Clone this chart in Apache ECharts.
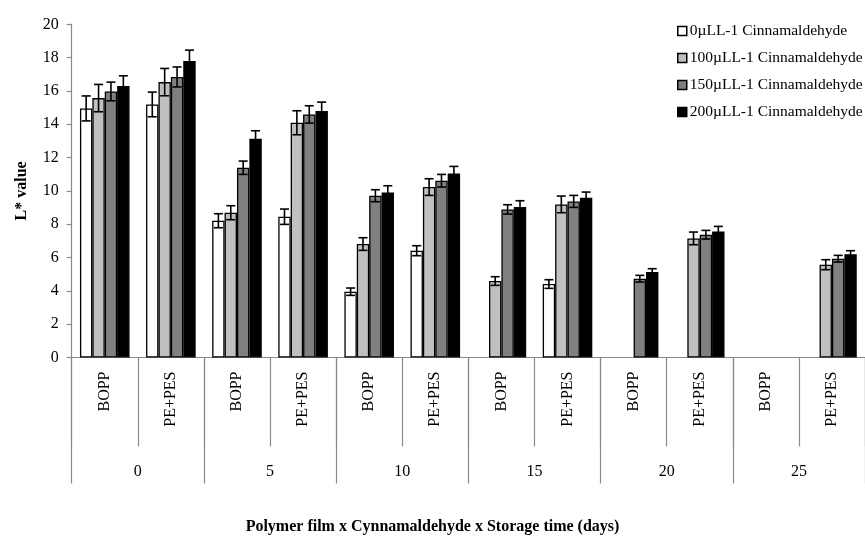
<!DOCTYPE html>
<html>
<head>
<meta charset="utf-8">
<script src="https://cdn.jsdelivr.net/npm/echarts@6/dist/echarts.min.js"></script>
<style>
  html, body { margin: 0; padding: 0; background: #ffffff; }
  #chart { width: 865px; height: 538px; }
</style>
</head>
<body>
<div id="chart"></div>
<script>
// Films within each storage day
const films = ['BOPP', 'PE+PES', 'BOPP', 'PE+PES', 'BOPP', 'PE+PES',
               'BOPP', 'PE+PES', 'BOPP', 'PE+PES', 'BOPP', 'PE+PES'];
// Storage time groups (days)
const days = ['0', '5', '10', '15', '20', '25'];

const seriesNames = ['0µLL-1 Cinnamaldehyde', '100µLL-1 Cinnamaldehyde',
                     '150µLL-1 Cinnamaldehyde', '200µLL-1 Cinnamaldehyde'];
const seriesColors = ['#ffffff', '#c0c0c0', '#808080', '#000000'];

// L* values (null = not measured)
const dose0   = [14.95, 15.19, 8.21, 8.45, 3.95, 6.41, null, 4.41, null, null, null, null];
const dose100 = [15.57, 16.53, 8.69, 14.09, 6.81, 10.23, 4.59, 9.19, null, 7.15, null, 5.57];
const dose150 = [15.97, 16.84, 11.39, 14.59, 9.71, 10.61, 8.89, 9.37, 4.73, 7.37, null, 5.93];
const dose200 = [16.29, 17.79, 13.13, 14.79, 9.91, 11.05, 9.03, 9.59, 5.13, 7.57, null, 6.19];

// Standard errors
const err0   = [0.75, 0.74, 0.42, 0.46, 0.22, 0.30, null, 0.26, null, null, null, null];
const err100 = [0.82, 0.82, 0.42, 0.72, 0.38, 0.50, 0.26, 0.50, null, 0.38, null, 0.30];
const err150 = [0.56, 0.60, 0.40, 0.52, 0.36, 0.38, 0.28, 0.36, 0.20, 0.26, null, 0.20];
const err200 = [0.62, 0.66, 0.48, 0.54, 0.40, 0.42, 0.38, 0.34, 0.20, 0.30, null, 0.22];

const yTicks = { min: 0, max: 20, interval: 2 };

const values = [dose0, dose100, dose150, dose200];
const errors = [err0, err100, err150, err200];

const FONT = '"Liberation Serif", "Times New Roman", serif';
const AXIS_GREY = '#8a8a8a';
const CAT_GAP = 0.25;   // share of category left empty
const nBars = 4;

const barSeries = values.map((arr, k) => ({
  name: seriesNames[k],
  type: 'bar',
  xAxisIndex: 0,
  barGap: '0%',
  barCategoryGap: (CAT_GAP * 100) + '%',
  itemStyle: { color: seriesColors[k], borderColor: '#000000', borderWidth: 1.3 },
  data: arr.map(v => (v === null ? '-' : v)),
  z: 2
}));

const errSeries = values.map((arr, k) => ({
  type: 'custom',
  xAxisIndex: 0,
  z: 5,
  silent: true,
  data: arr.map((v, i) => (v === null ? null : [i, v, errors[k][i]])).filter(d => d),
  encode: { x: 0, y: 1 },
  renderItem: function (params, api) {
    const ci = api.value(0), v = api.value(1), e = api.value(2);
    const base = api.coord([ci, v]);
    const w = api.size([1, 0])[0];
    const bw = w * (1 - CAT_GAP) / nBars;
    const cx = base[0] - w * (1 - CAT_GAP) / 2 + (k + 0.5) * bw;
    const yTop = api.coord([ci, v + e])[1];
    const yBot = api.coord([ci, v - e])[1];
    const cap = 4.5;
    const st = { stroke: '#000000', lineWidth: 1.6 };
    return {
      type: 'group',
      children: [
        { type: 'line', shape: { x1: cx, y1: yTop, x2: cx, y2: yBot }, style: st },
        { type: 'line', shape: { x1: cx - cap, y1: yTop, x2: cx + cap, y2: yTop }, style: st },
        { type: 'line', shape: { x1: cx - cap, y1: yBot, x2: cx + cap, y2: yBot }, style: st }
      ]
    };
  }
}));

const chart = echarts.init(document.getElementById('chart'), null, { renderer: 'canvas' });
chart.setOption({
  animation: false,
  backgroundColor: '#ffffff',
  textStyle: { fontFamily: FONT },
  title: {
    text: 'Polymer film x Cynnamaldehyde x Storage time (days)',
    left: 'center',
    top: 514,
    textStyle: { fontFamily: FONT, fontSize: 16, fontWeight: 'bold', color: '#000000' }
  },
  legend: {
    data: seriesNames,
    orient: 'vertical',
    left: 677,
    top: 23,
    padding: 0,
    itemWidth: 9,
    itemHeight: 9,
    itemGap: 11,
    icon: 'rect',
    itemStyle: { borderColor: '#000000', borderWidth: 1.5 },
    textStyle: { fontFamily: FONT, fontSize: 15.5, color: '#000000', padding: [0, 0, 0, -2], lineHeight: 15.5 }
  },
  grid: { left: 71.7, right: -9, top: 24.3, bottom: 180.5, containLabel: false },
  xAxis: [
    {
      type: 'category',
      data: films.map((f, i) => f + '|' + i),
      position: 'bottom',
      axisLine: { show: true, lineStyle: { color: AXIS_GREY, width: 1.2 } },
      axisTick: { show: true, interval: 0, length: 89, lineStyle: { color: AXIS_GREY, width: 1.2 } },
      axisLabel: {
        interval: 0,
        rotate: 90,
        margin: 14,
        fontFamily: FONT,
        fontSize: 16,
        color: '#000000',
        formatter: v => v.split('|')[0]
      }
    },
    {
      type: 'category',
      data: days,
      position: 'bottom',
      axisLine: { show: false },
      axisTick: { show: true, interval: 0, length: 126, lineStyle: { color: AXIS_GREY, width: 1.2 } },
      axisLabel: { interval: 0, margin: 106, fontFamily: FONT, fontSize: 16, color: '#000000' }
    }
  ],
  yAxis: {
    type: 'value',
    min: yTicks.min,
    max: yTicks.max,
    interval: yTicks.interval,
    name: 'L* value',
    nameLocation: 'middle',
    nameRotate: 90,
    nameGap: 42,
    nameTextStyle: { fontFamily: FONT, fontSize: 16, fontWeight: 'bold', color: '#000000' },
    axisLine: { show: true, lineStyle: { color: AXIS_GREY, width: 1.2 } },
    axisTick: { show: true, length: 5, lineStyle: { color: AXIS_GREY, width: 1.2 } },
    axisLabel: { margin: 13, fontFamily: FONT, fontSize: 16, color: '#000000' },
    splitLine: { show: false }
  },
  series: barSeries.concat(errSeries)
});
</script>
</body>
</html>
